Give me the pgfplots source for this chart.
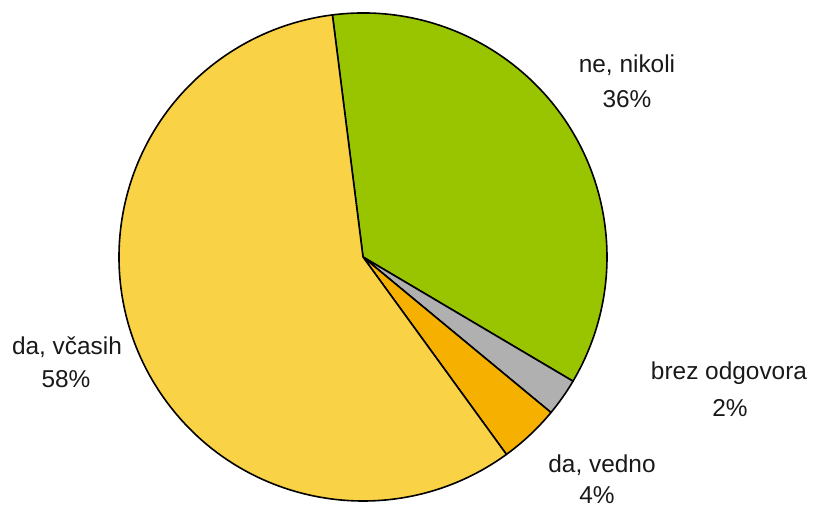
\documentclass[border=0pt]{standalone}
\usepackage{pgfplots}
\pgfplotsset{compat=1.18}
\usepackage{fontspec}
\setmainfont{Liberation Sans}

\definecolor{cnikoli}{RGB}{153,196,0}
\definecolor{cbrez}{RGB}{176,176,176}
\definecolor{cvedno}{RGB}{245,176,0}
\definecolor{cvcasih}{RGB}{250,210,70}

% shares in percent, clockwise from the top
\def\vnikoli{35.5}
\def\vbrez{2.5}
\def\vvedno{4.0}
\def\vvcasih{58.0}

\tikzset{lbl/.style={anchor=base, inner sep=0pt, font=\fontsize{24.5}{28}\selectfont, text=black!90},
  slice/.style={draw=black, line width=1.6bp, line join=round, overlay}}

\begin{document}
\begin{tikzpicture}
  \pgfmathsetmacro\aA{97.2}
  \pgfmathsetmacro\aB{\aA-3.6*\vnikoli}
  \pgfmathsetmacro\aC{\aB-3.6*\vbrez}
  \pgfmathsetmacro\aD{\aC-3.6*\vvedno}
  \pgfmathsetmacro\aE{\aD-3.6*\vvcasih}
  \begin{axis}[x=1bp, y=1bp, xmin=0, xmax=816, ymin=0, ymax=508,
      hide axis, clip=false]
    \addplot[draw=none] coordinates {(0,0) (816,508)};
    \filldraw[slice, fill=cnikoli]
      (axis cs:363,251) -- ++(\aA:244bp) arc[start angle=\aA, end angle=\aB, radius=244bp] -- cycle;
    \filldraw[slice, fill=cbrez]
      (axis cs:363,251) -- ++(\aB:244bp) arc[start angle=\aB, end angle=\aC, radius=244bp] -- cycle;
    \filldraw[slice, fill=cvedno]
      (axis cs:363,251) -- ++(\aC:244bp) arc[start angle=\aC, end angle=\aD, radius=244bp] -- cycle;
    \filldraw[slice, fill=cvcasih]
      (axis cs:363,251) -- ++(\aD:244bp) arc[start angle=\aD, end angle=\aE, radius=244bp] -- cycle;

    \node[lbl] at (axis cs:627,435) {ne, nikoli};
    \node[lbl] at (axis cs:627,400) {36\%};
    \node[lbl] at (axis cs:729,128) {brez odgovora};
    \node[lbl] at (axis cs:730,91) {2\%};
    \node[lbl] at (axis cs:602,35) {da, vedno};
    \node[lbl] at (axis cs:597,4) {4\%};
    \node[lbl] at (axis cs:67,153) {da, včasih};
    \node[lbl] at (axis cs:66,120) {58\%};
  \end{axis}
\end{tikzpicture}
\end{document}
